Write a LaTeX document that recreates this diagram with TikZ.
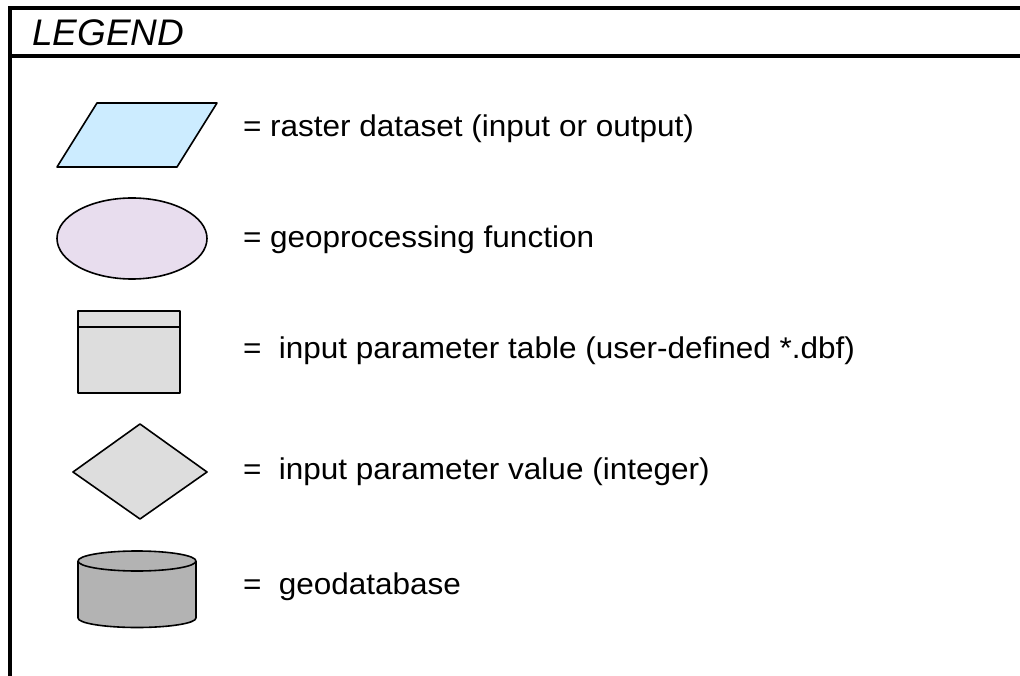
\documentclass[tikz,border=0pt]{standalone}
\usepackage{fontspec}
\setmainfont{Liberation Sans}
\newfontfamily\itemfont[FakeStretch=1.05]{Liberation Sans}
\usepackage{xcolor}
\usetikzlibrary{positioning}
\definecolor{rasterblue}{HTML}{CCECFF}
\definecolor{funclilac}{HTML}{E8DDEE}
\definecolor{tablegray}{HTML}{DDDDDD}
\definecolor{dbgray}{HTML}{B3B3B3}
\tikzset{
  symb/.style = {draw = black, line width = 1.6pt, line join = round},
  frame/.style = {line width = 4pt},
  itemtext/.style = {anchor = base west, inner sep = 0pt, outer sep = 0pt,
                     font = \itemfont\fontsize{30}{36}\selectfont}
}

\begin{document}
\begin{tikzpicture}[x=1pt, y=-1pt]
            \useasboundingbox (0,0) rectangle (1020,676);

            % frame and title bar
            \draw[frame] (10,676) -- (10,8) -- (1020,8);
            \draw[frame] (8,56) -- (1020,56);
            \node[anchor = base west, inner sep = 0pt, font = \fontsize{37}{44}\selectfont\itshape] (title) at (32,46) {LEGEND};

            % raster dataset
            \draw[symb, fill = rasterblue] (57,167) -- (97,103) -- (217,103) -- (177,167) -- cycle;
            \node[itemtext] (raster) at (243,137) {= raster dataset (input or output)};

            % geoprocessing function
            \draw[symb, fill = funclilac] (132,238.5) ellipse [x radius = 75pt, y radius = 40.5pt];
            \node[itemtext] (func) at (243,248) {= geoprocessing function};

            % parameter table
            \draw[symb, fill = tablegray] (78,311) rectangle (180,393);
            \draw[symb] (78,327) -- (180,327);
            \node[itemtext] (table) at (243,358) {=\ \ input parameter table (user-defined *.dbf)};

            % parameter value
            \draw[symb, fill = tablegray] (73,472) -- (140,424) -- (207,472) -- (140,519) -- cycle;
            \node[itemtext] (value) at (243,479) {=\ \ input parameter value (integer)};

            % geodatabase
            \draw[symb, fill = dbgray] (78,561) -- (78,618) arc [start angle = 180, end angle = 360, x radius = 59pt, y radius = 9.5pt] -- (196,561);
            \draw[symb, fill = dbgray] (137,561) ellipse [x radius = 59pt, y radius = 10pt];
            \node[itemtext] (gdb) at (243,594) {=\ \ geodatabase};
\end{tikzpicture}
\end{document}
